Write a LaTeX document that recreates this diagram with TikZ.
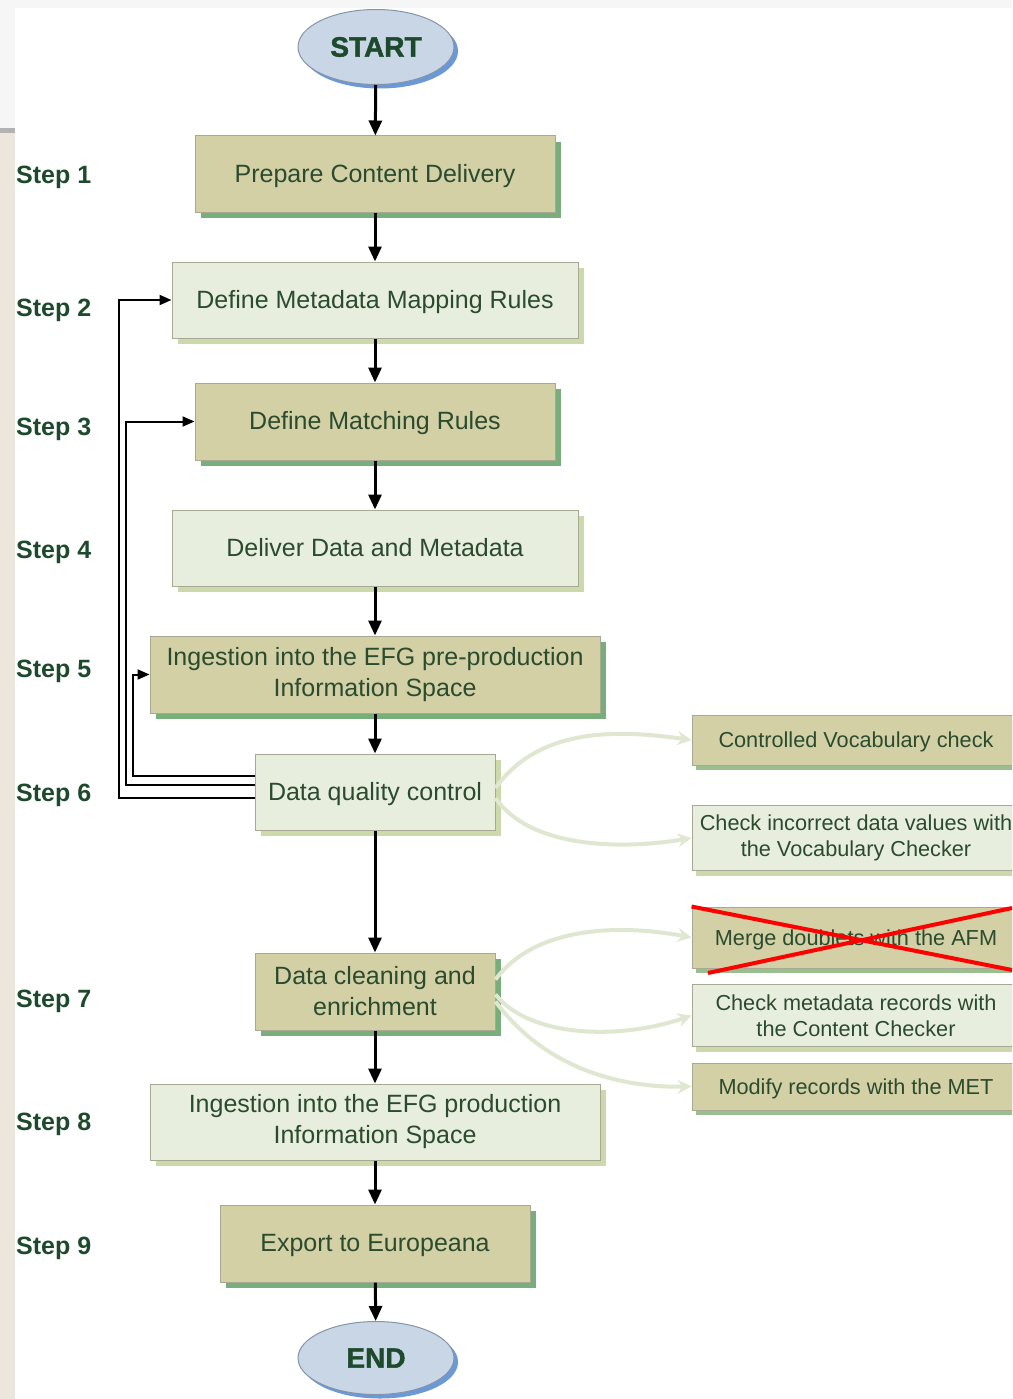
\documentclass[tikz,border=0pt]{standalone}
\usepackage{fontspec}
\setmainfont{Liberation Sans}
\newfontface\blackfont[FakeBold=1.5]{Liberation Sans Bold}
\usetikzlibrary{arrows.meta,shapes.geometric,shadows}
\definecolor{dkfill}{HTML}{D3D0A6}
\definecolor{ltfill}{HTML}{E8EEDD}
\definecolor{dkshadow}{HTML}{78AD7C}
\definecolor{ltshadow}{HTML}{CCD9AB}
\definecolor{boxborder}{HTML}{A8A894}
\definecolor{txtgreen}{HTML}{2B4B2E}
\definecolor{lblgreen}{HTML}{1D4A2C}
\definecolor{ovfill}{HTML}{C8D6E6}
\definecolor{ovborder}{HTML}{8595A8}
\definecolor{ovshadow}{HTML}{6B98D6}
\definecolor{curvecol}{HTML}{E0E7D0}
\definecolor{beige}{HTML}{ECE6DD}
\definecolor{pagegray}{HTML}{F6F6F6}
\begin{document}
\begin{tikzpicture}[x=1pt,y=-1pt,
  box/.style={rectangle, draw=boxborder, line width=1pt, inner sep=0pt, align=center,
    text=txtgreen, font=\fontsize{25}{31}\selectfont},
  oneline/.style={text height=22.2pt, text depth=5.3pt},
  roneline/.style={text height=19.5pt, text depth=4.3pt},
  dkbox/.style={box, fill=dkfill, general shadow={fill=dkshadow, shadow xshift=6pt, shadow yshift=-6pt}},
  ltbox/.style={box, fill=ltfill, general shadow={fill=ltshadow, shadow xshift=6pt, shadow yshift=-6pt}},
  rdk/.style={box, fill=dkfill, minimum width=328pt, font=\fontsize{21.7}{26}\selectfont,
    general shadow={fill=dkshadow!60!ltshadow, shadow xshift=4pt, shadow yshift=-5pt}},
  rlt/.style={box, fill=ltfill, minimum width=328pt, font=\fontsize{21.7}{26}\selectfont,
    general shadow={fill=ltshadow, shadow xshift=4pt, shadow yshift=-5pt}},
  oval/.style={ellipse, draw=ovborder, line width=1pt, fill=ovfill, minimum width=156pt, minimum height=75pt,
    inner sep=0pt, text=lblgreen, font=\fontsize{28}{30}\blackfont,
    general shadow={fill=ovshadow, shadow xshift=4pt, shadow yshift=-4pt}},
  lbl/.style={anchor=west, inner sep=0pt, text=lblgreen, font=\fontsize{25}{30}\selectfont\bfseries},
  mainarrow/.style={line width=3pt, -{Triangle[length=15pt,width=13pt]}},
  fb/.style={line width=2pt, -{Triangle[length=12pt,width=10pt]}},
  cur/.style={line width=4pt, draw=curvecol, -{Stealth[length=14pt,width=14pt,inset=5pt]}},
  cross/.style={line width=4pt, draw=red}
]
\clip (0,0) rectangle (1012,1399);
% background
\fill[white] (0,0) rectangle (1012,1399);
\fill[pagegray] (0,0) rectangle (1012,8);
\fill[pagegray] (0,0) rectangle (15,130);
\fill[beige] (0,130) rectangle (15,1399);
\fill[gray!60] (0,128) rectangle (15,133);

% main nodes
\node[oval] (start) at (376,47) {START};
\node[dkbox, oneline, minimum width=360pt, minimum height=76pt] (s1) at (375,174) {Prepare Content Delivery};
\node[ltbox, oneline, minimum width=406pt, minimum height=76pt] (s2) at (375,300) {Define Metadata Mapping Rules};
\node[dkbox, oneline, minimum width=360pt, minimum height=77pt] (s3) at (375,421.5) {Define Matching Rules};
\node[ltbox, oneline, minimum width=406pt, minimum height=76pt] (s4) at (375,548) {Deliver Data and Metadata};
\node[dkbox, minimum width=450pt, minimum height=77pt] (s5) at (375,674.5) {Ingestion into the EFG pre-production\\Information Space};
\node[ltbox, oneline, minimum width=240pt, minimum height=76pt] (s6) at (375,792) {Data quality control};
\node[dkbox, minimum width=240pt, minimum height=77pt] (s7) at (375,991.5) {Data cleaning and\\enrichment};
\node[ltbox, minimum width=450pt, minimum height=76pt] (s8) at (375,1122) {Ingestion into the EFG production\\Information Space};
\node[dkbox, oneline, minimum width=310pt, minimum height=77pt] (s9) at (375,1243.5) {Export to Europeana};
\node[oval, minimum height=73pt] (end) at (376,1358) {END};

% step labels
\node[lbl] (l1) at (16,177) {Step 1};
\node[lbl] (l2) at (16,310) {Step 2};
\node[lbl] (l3) at (16,429) {Step 3};
\node[lbl] (l4) at (16,552) {Step 4};
\node[lbl] (l5) at (16,671) {Step 5};
\node[lbl] (l6) at (16,795) {Step 6};
\node[lbl] (l7) at (16,1001) {Step 7};
\node[lbl] (l8) at (16,1124) {Step 8};
\node[lbl] (l9) at (16,1248) {Step 9};

% right side nodes
\node[rdk, roneline, minimum height=50pt] (r1) at (856,740) {Controlled Vocabulary check};
\node[rlt, minimum height=65pt] (r2) at (856,838) {Check incorrect data values with\\the Vocabulary Checker};
\node[rdk, roneline, minimum height=61pt] (r3) at (856,937.5) {Merge doublets with the AFM};
\node[rlt, minimum height=62pt] (r4) at (856,1015.5) {Check metadata records with\\the Content Checker};
\node[rdk, roneline, minimum height=47pt] (r5) at (856,1086.5) {Modify records with the MET};

% main arrows
\draw[mainarrow] (start) -- (s1);
\draw[mainarrow] (s1) -- (s2);
\draw[mainarrow] (s2) -- (s3);
\draw[mainarrow] (s3) -- (s4);
\draw[mainarrow] (s4) -- (s5);
\draw[mainarrow] (s5) -- (s6);
\draw[mainarrow] (s6) -- (s7);
\draw[mainarrow] (s7) -- (s8);
\draw[mainarrow] (s8) -- (s9);
\draw[mainarrow] (s9) -- (end);

% feedback arrows
\draw[fb] ([yshift=-6pt]s6.west) -- ++(-136,0) |- (s2.west);
\draw[fb] ([yshift=7pt]s6.west) -- ++(-129,0) |- (s3.west);
\draw[fb] ([yshift=16pt]s6.west) -- ++(-122,0) |- (s5.west);

% curved light arrows
\draw[cur] ([yshift=4pt]s6.east) .. controls (540,726) and (620,730) .. (r1.west);
\draw[cur] ([yshift=-6pt]s6.east) .. controls (530,848) and (620,850) .. (r2.west);
\draw[cur] ([yshift=12pt]s7.east) .. controls (535,926) and (620,924) .. (r3.west);
\draw[cur] ([yshift=-3pt]s7.east) .. controls (530,1038) and (620,1040) .. (r4.west);
\draw[cur] ([yshift=-10pt]s7.east) .. controls (540,1062) and (610,1088) .. (r5.west);

% red cross
\draw[cross] (r3.north west) -- (1012,970);
\draw[cross] (708,973) -- (1012,908);
\end{tikzpicture}
\end{document}
